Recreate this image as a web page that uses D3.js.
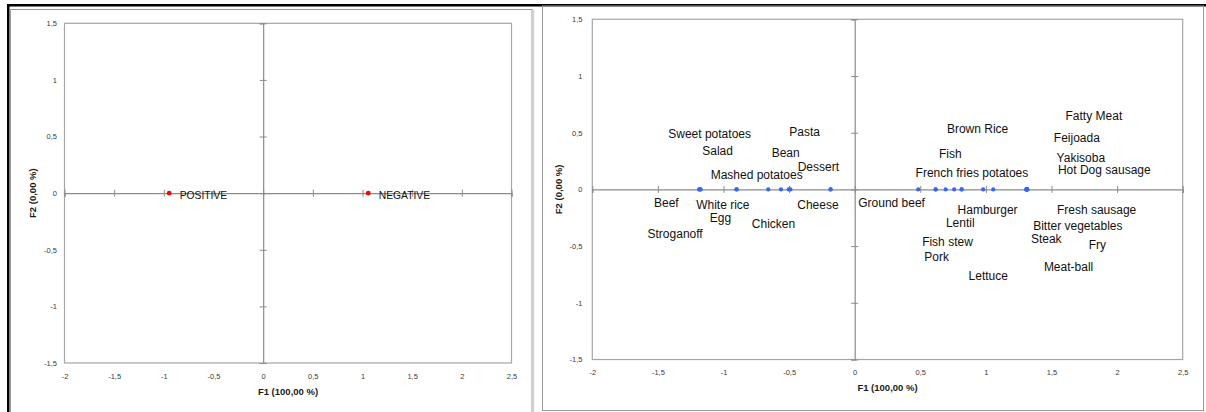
<!DOCTYPE html>
<html>
<head>
<meta charset="utf-8">
<script src="https://cdn.jsdelivr.net/npm/d3@7"></script>
<style>
  html, body { margin: 0; padding: 0; background: #fff; }
  svg { display: block; }
  text { font-family: "Liberation Sans", Arial, sans-serif; }
</style>
</head>
<body>
<svg id="chart" width="1206" height="412"></svg>
<script>
// Axis ticks shared by both maps
const f1Ticks = [-2, -1.5, -1, -0.5, 0, 0.5, 1, 1.5, 2, 2.5];
const f2Ticks = [-1.5, -1, -0.5, 0, 0.5, 1, 1.5];
const f1Title = "F1 (100,00 %)";
const f2Title = "F2 (0,00 %)";

// Attitude groups (left map)
const groupNames = ["POSITIVE", "NEGATIVE"];
const groupF1 = [-0.946, 1.058];
const groupF2 = [0, 0];

// Foods (right map): factor scores and where each name is placed on the map
const foodNames = [
  "Beef", "Stroganoff", "Sweet potatoes", "Salad",
  "White rice", "Egg", "Mashed potatoes", "Chicken",
  "Bean", "Pasta", "Dessert", "Cheese",
  "Ground beef", "Fish stew", "Pork", "Fish", "Lentil",
  "French fries potatoes", "Brown Rice", "Hamburger", "Lettuce",
  "Steak", "Bitter vegetables", "Meat-ball", "Fresh sausage", "Fatty Meat",
  "Feijoada", "Yakisoba", "Hot Dog sausage", "Fry"
];
const foodF1 = [
  -1.186, -1.182, -1.178, -1.174,
  -0.902, -0.898, -0.659, -0.562,
  -0.503, -0.490, -0.184, -0.184,
  0.484, 0.617, 0.617, 0.693, 0.758,
  0.815, 0.815, 0.979, 1.056,
  1.308, 1.309, 1.310, 1.311, 1.312,
  1.313, 1.314, 1.315, 1.316
];
const foodF2 = new Array(foodF1.length).fill(0);
const foodLabelF1 = [
  -1.530, -1.579, -1.421, -1.162,
  -1.208, -1.104, -1.098, -0.784,
  -0.633, -0.499, -0.435, -0.438,
  0.027, 0.514, 0.530, 0.642, 0.695,
  0.464, 0.703, 0.784, 0.868,
  1.343, 1.360, 1.442, 1.541, 1.607,
  1.518, 1.539, 1.549, 1.783
];
const foodLabelF2 = [
  -0.122, -0.393, 0.494, 0.341,
  -0.132, -0.248, 0.133, -0.305,
  0.323, 0.505, 0.203, -0.140,
  -0.120, -0.461, -0.598, 0.318, -0.296,
  0.144, 0.532, -0.181, -0.763,
  -0.439, -0.322, -0.681, -0.181, 0.646,
  0.455, 0.279, 0.173, -0.490
];

const svg = d3.select("#chart");

// comma decimal separator, plain hyphen for negatives
const locale = d3.formatLocale({ decimal: ",", thousands: ".", grouping: [3], currency: ["", ""], minus: "-" });
const tickFmt = locale.format("");

// Frames around the two maps
svg.append("rect").attr("x", 7).attr("y", 4).attr("width", 1199).attr("height", 2.5).attr("fill", "#000");
svg.append("rect").attr("x", 7).attr("y", 4).attr("width", 2.5).attr("height", 408).attr("fill", "#000");
svg.append("rect").attr("x", 10.5).attr("y", 9.5).attr("width", 521.5).attr("height", 420)
  .attr("fill", "none").attr("stroke", "#9a9a9a").attr("stroke-width", 1);
svg.append("line").attr("x1", 533.5).attr("x2", 533.5).attr("y1", 10).attr("y2", 412)
  .attr("stroke", "#d4d4d4").attr("stroke-width", 1.5);
svg.append("rect").attr("x", 542.5).attr("y", 6).attr("width", 661).attr("height", 404.5)
  .attr("fill", "none").attr("stroke", "#9a9a9a").attr("stroke-width", 1);

function drawMap(cfg) {
  const x = d3.scaleLinear().domain([-2, 2.5]).range([cfg.left, cfg.right]);
  const y = d3.scaleLinear().domain([-1.5, 1.5]).range([cfg.bottom, cfg.top]);
  const g = svg.append("g");

  // plot border
  g.append("rect")
    .attr("x", cfg.left).attr("y", cfg.top)
    .attr("width", cfg.right - cfg.left).attr("height", cfg.bottom - cfg.top)
    .attr("fill", "none").attr("stroke", "#a6a6a6").attr("stroke-width", 1.2);

  // tick labels along the bottom and left edges
  const xa = g.append("g").attr("transform", `translate(0,${cfg.bottom + cfg.xLabelGap})`)
    .call(d3.axisBottom(x).tickValues(f1Ticks).tickFormat(tickFmt).tickSize(0).tickPadding(0));
  const ya = g.append("g").attr("transform", `translate(${cfg.left - cfg.yLabelGap},0)`)
    .call(d3.axisLeft(y).tickValues(f2Ticks).tickFormat(tickFmt).tickSize(0).tickPadding(0));
  [xa, ya].forEach(a => {
    a.select(".domain").remove();
    a.selectAll("text").attr("font-family", "'Liberation Sans', Arial, sans-serif")
      .attr("font-size", 7.5).attr("fill", "#3a3a3a");
  });
  xa.selectAll("text").attr("dy", "0.35em");

  // axes crossing at the origin, with cross ticks
  const axisColor = "#8c8c8c";
  const xz = g.append("g").attr("transform", `translate(0,${y(0)})`)
    .call(d3.axisBottom(x).tickValues(f1Ticks).tickSize(3.5).tickFormat(""));
  const yz = g.append("g").attr("transform", `translate(${x(0)},0)`)
    .call(d3.axisLeft(y).tickValues(f2Ticks).tickSize(3.5).tickFormat(""));
  [xz, yz].forEach(a => {
    a.select(".domain").attr("stroke", axisColor).attr("stroke-width", 1.2);
    a.selectAll(".tick line").attr("stroke", axisColor).attr("stroke-width", 1);
  });
  xz.selectAll(".tick line").attr("y1", -3.5).attr("y2", 3.5);
  yz.selectAll(".tick line").attr("x1", -3.5).attr("x2", 3.5);

  // axis titles
  g.append("text")
    .attr("x", (cfg.left + cfg.right) / 2).attr("y", cfg.bottom + cfg.xTitleGap)
    .attr("text-anchor", "middle").attr("dy", "0.35em")
    .attr("font-size", 9.5).attr("font-weight", "bold").attr("fill", "#1a1a1a")
    .text(f1Title);
  g.append("text")
    .attr("transform", `translate(${cfg.left - cfg.yTitleGap},${y(0)}) rotate(-90)`)
    .attr("text-anchor", "middle").attr("dy", "0.35em")
    .attr("font-size", 9.5).attr("font-weight", "bold").attr("fill", "#1a1a1a")
    .text(f2Title);

  return { g, x, y };
}

// Left map: attitude groups
const left = drawMap({ left: 64.5, right: 511.5, top: 23.3, bottom: 363,
  xLabelGap: 13.7, yLabelGap: 7.5, xTitleGap: 28.7, yTitleGap: 31.8 });
left.g.selectAll("circle.grp").data(groupNames).join("circle")
  .attr("class", "grp")
  .attr("cx", (d, i) => left.x(groupF1[i]))
  .attr("cy", (d, i) => left.y(groupF2[i]))
  .attr("r", 2.4).attr("fill", "#ff0000");
left.g.selectAll("text.grp").data(groupNames).join("text")
  .attr("class", "grp")
  .attr("x", (d, i) => left.x(groupF1[i]) + 10.5)
  .attr("y", (d, i) => left.y(groupF2[i]) + 2)
  .attr("dy", "0.35em")
  .attr("font-size", 10.3).attr("fill", "#111")
  .text(d => d);

// Right map: foods
const right = drawMap({ left: 592.3, right: 1182.7, top: 19.3, bottom: 359.5,
  xLabelGap: 12.8, yLabelGap: 9.8, xTitleGap: 28.2, yTitleGap: 33.3 });
right.g.selectAll("circle.food").data(foodNames).join("circle")
  .attr("class", "food")
  .attr("cx", (d, i) => right.x(foodF1[i]))
  .attr("cy", (d, i) => right.y(foodF2[i]))
  .attr("r", 2.1).attr("fill", "#3366ff");
right.g.selectAll("text.food").data(foodNames).join("text")
  .attr("class", "food")
  .attr("x", (d, i) => right.x(foodLabelF1[i]))
  .attr("y", (d, i) => right.y(foodLabelF2[i]))
  .attr("dy", "0.35em")
  .attr("font-size", 12).attr("fill", "#111")
  .text(d => d);
</script>
</body>
</html>
